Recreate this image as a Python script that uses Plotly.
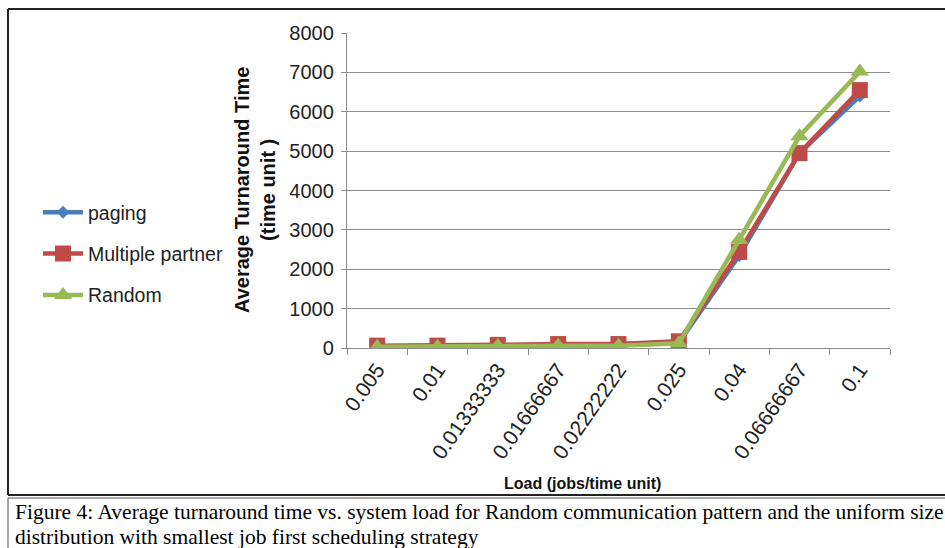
import plotly.graph_objects as go

loads = ["0.005", "0.01", "0.01333333", "0.01666667", "0.02222222", "0.025", "0.04", "0.06666667", "0.1"]
paging = [30, 30, 50, 60, 70, 130, 2350, 4950, 6400]
multiple_partner = [60, 60, 80, 100, 100, 170, 2440, 4950, 6550]
random_pattern = [30, 30, 50, 60, 60, 120, 2750, 5380, 7020]

y_ticks = [0, 1000, 2000, 3000, 4000, 5000, 6000, 7000, 8000]

W, H = 945, 548
L, R, T, B = 347, 890, 33, 348          # plot area in window pixels
pw, ph = R - L, B - T

def px(x):
    return (x - L) / pw

def py(y):
    return (B - y) / ph

font_sans = "Liberation Sans"

fig = go.Figure()
fig.add_trace(go.Scatter(
    x=loads, y=paging, name="paging", mode="lines+markers", legendgroup="a",
    line=dict(color="#4A7EBB", width=4.5),
    marker=dict(symbol="diamond", size=10, color="#4A7EBB")))
fig.add_trace(go.Scatter(
    x=loads, y=multiple_partner, name="Multiple partner", mode="lines+markers", legendgroup="b",
    line=dict(color="#BE4B48", width=4.5),
    marker=dict(symbol="square", size=16, color="#BE4B48")))
fig.add_trace(go.Scatter(
    x=loads, y=random_pattern, name="Random", mode="lines+markers", legendgroup="c",
    line=dict(color="#98B954", width=4.5),
    marker=dict(symbol="triangle-up", size=16, color="#98B954")))

fig.update_layout(
    width=W, height=H,
    margin=dict(l=L, r=W - R, t=T, b=H - B, autoexpand=False),
    paper_bgcolor="white", plot_bgcolor="white",
    font=dict(family=font_sans, size=19, color="#222222"),
    showlegend=True,
    legend=dict(x=px(38), y=py(254), xanchor="left", yanchor="middle",
                font=dict(size=19.5, color="#222222"), tracegroupgap=13,
                bgcolor="rgba(0,0,0,0)", itemwidth=40),
    xaxis=dict(type="category", categoryorder="array", categoryarray=loads,
               range=[-0.5, 8.5], showgrid=False, showline=True, linecolor="#8c8c8c",
               linewidth=1.3, ticks="outside", tickson="boundaries", ticklen=6,
               tickcolor="#8c8c8c", tickwidth=1.3, tickangle=-55,
               tickfont=dict(size=21, color="#222222"), zeroline=False),
    yaxis=dict(range=[0, 8000], tickvals=y_ticks, showgrid=True, gridcolor="#8c8c8c",
               gridwidth=1.3, showline=True, linecolor="#8c8c8c", linewidth=1.3,
               ticks="outside", ticklen=5, tickcolor="#8c8c8c", tickwidth=1.3,
               tickfont=dict(size=20, color="#222222"), zeroline=False, ticklabelstandoff=3),
)

# axis titles
fig.add_annotation(xref="paper", yref="paper", x=px(255), y=py(190),
                   text="<b>Average Turnaround Time<br>(time unit )</b>", textangle=-90,
                   showarrow=False, font=dict(size=20, color="#111111"),
                   xanchor="center", yanchor="middle")
fig.add_annotation(xref="paper", yref="paper", x=px(582), y=py(483),
                   text="<b>Load (jobs/time unit)</b>", showarrow=False,
                   font=dict(size=16, color="#111111"), xanchor="center", yanchor="middle")

# caption
cap_font = dict(family="Liberation Serif", size=21.5, color="black")
fig.add_annotation(xref="paper", yref="paper", x=px(13), y=py(512),
                   text="Figure 4: Average turnaround time vs. system load for Random communication pattern and the uniform size",
                   showarrow=False, font=cap_font, xanchor="left", yanchor="middle")
fig.add_annotation(xref="paper", yref="paper", x=px(13), y=py(537),
                   text="distribution with smallest job first scheduling strategy",
                   showarrow=False, font=cap_font, xanchor="left", yanchor="middle")

# frames (open on the right, as in the cropped reference)
frame = dict(color="#222222", width=2)
fig.add_shape(type="line", xref="paper", yref="paper", x0=px(8), x1=px(1000), y0=py(9), y1=py(9), line=frame)
fig.add_shape(type="line", xref="paper", yref="paper", x0=px(8), x1=px(1000), y0=py(495), y1=py(495), line=frame)
fig.add_shape(type="line", xref="paper", yref="paper", x0=px(8), x1=px(8), y0=py(495), y1=py(9), line=frame)
fig.add_shape(type="line", xref="paper", yref="paper", x0=px(8), x1=px(1000), y0=py(498), y1=py(498),
              line=dict(color="#555555", width=1))
fig.add_shape(type="line", xref="paper", yref="paper", x0=px(8), x1=px(8), y0=py(498), y1=py(560),
              line=dict(color="#555555", width=1))

fig.write_html("out.html", config={"displayModeBar": False},
               post_script="document.body.style.margin='0';document.body.style.overflow='hidden';")
